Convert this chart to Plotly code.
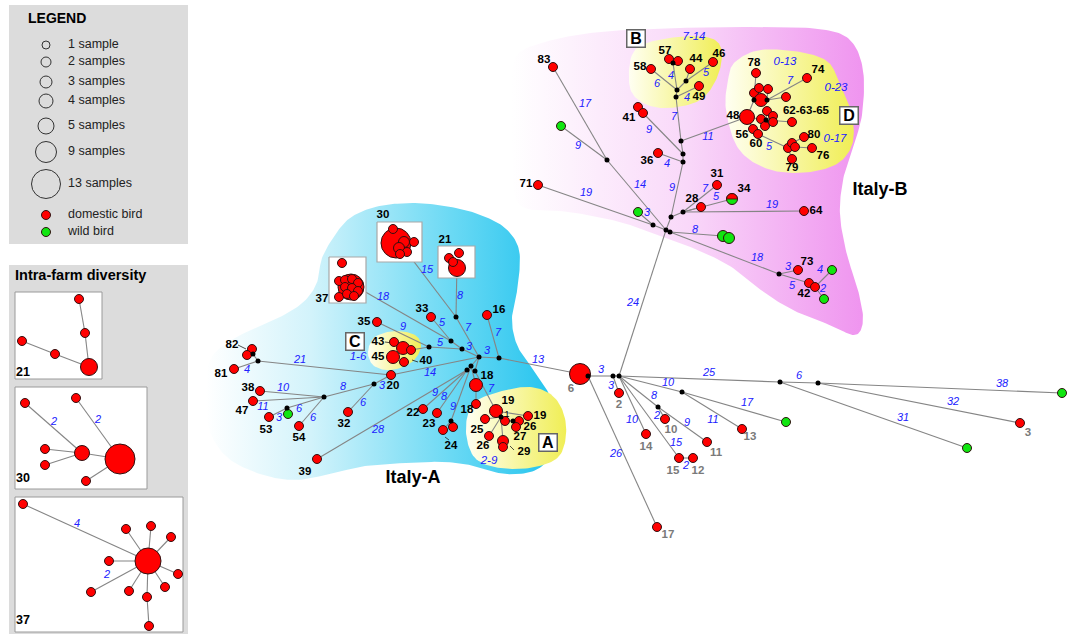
import numpy as np
import plotly.graph_objects as go

FONT = "Arial, 'Liberation Sans', sans-serif"
RED, GREEN = "#ff0000", "#10e610"
OUTLINE = "#301010"
EDGE_GREY = "#858585"
BLUE = "#2020ff"
GREY_TXT = "#7a7a7a"

# isolates per sequence type -> marker diameter in px
SAMPLE_DIAM = {1: 9, 2: 11, 3: 13, 4: 15, 5: 17, 8: 21, 9: 22, 11: 26, 13: 30}

# ---------------- legend ----------------
LEGEND_SAMPLES = [1, 2, 3, 4, 5, 9, 13]
LEGEND_TEXT = ["1 sample", "2 samples", "3 samples", "4 samples", "5 samples", "9 samples", "13 samples"]
LEGEND_HOSTS = ["domestic bird", "wild bird"]

# ---------------- sequence types of the network ----------------
NODE_KEYS = [
    # Italy-A
    "a16", "a33", "a35", "a43", "a40a", "a40b", "a45", "a40c", "a20", "a32", "a38", "a47",
    "a53", "a53w", "a54", "a81", "a82a", "a82b", "a39", "a22", "a23", "a24a", "a24b",
    "a18a", "a18b", "a19a", "a19b", "a25", "a26", "aA1", "aA2", "aA3", "a27", "a29",
    # Italy-B
    "b83", "bw1", "b71", "bw2", "b41a", "b41b", "b36", "b58", "b57a", "b57b", "b44", "b46",
    "b49", "b28", "b31", "b34", "b64", "bw3", "bw4", "b73", "b42a", "b42b", "bw5", "bw6",
    "b48", "b78", "b74", "bD1", "bD2", "bD3", "bD4", "bD5", "bD6", "bD7", "bD8", "bD9",
    "bD10", "bD11", "b56", "b60", "bD12", "bD13", "bD14", "b80", "b76", "b79",
    # outside the two clusters
    "c6", "c2", "c17", "c3", "cw1", "cw2", "cw3", "c13", "c10", "c11", "c15", "c12", "c14",
]
NODE_SAMPLES = [
    1, 1, 1, 1, 3, 1, 3, 1, 1, 1, 1, 1,
    1, 1, 1, 1, 1, 1, 1, 1, 1, 1, 1,
    3, 1, 3, 1, 1, 1, 1, 1, 1, 2, 1,
    1, 1, 1, 1, 1, 1, 1, 1, 1, 1, 1, 1,
    1, 1, 1, 2, 1, 2, 2, 1, 1, 1, 1, 1,
    4, 1, 1, 1, 1, 1, 3, 1, 1, 1, 1, 1,
    1, 1, 1, 1, 1, 1, 1, 1, 1, 1,
    8, 1, 1, 1, 1, 1, 1, 1, 1, 1, 1, 1, 1,
]
# d = domestic bird, w = wild bird, m = both
NODE_HOST = [
    "d", "d", "d", "d", "d", "d", "d", "d", "d", "d", "d", "d",
    "d", "w", "d", "d", "d", "d", "d", "d", "d", "d", "d",
    "d", "d", "d", "d", "d", "d", "d", "d", "d", "d", "d",
    "d", "w", "d", "w", "d", "d", "d", "d", "d", "d", "d", "d",
    "d", "d", "d", "m", "d", "w", "w", "d", "d", "d", "w", "w",
    "d", "d", "d", "d", "d", "d", "d", "d", "d", "d", "d", "d",
    "d", "d", "d", "d", "d", "d", "d", "d", "d", "d",
    "d", "d", "d", "d", "w", "w", "w", "d", "d", "d", "d", "d", "d",
]

# drawing positions (px) of the nodes
NODE_XY = {
    "a16": (487, 315), "a33": (431, 317), "a35": (377, 322), "a43": (394, 342),
    "a40a": (403, 348), "a40b": (411, 350), "a45": (393, 357), "a40c": (404, 362),
    "a20": (391, 375), "a32": (348, 412), "a38": (260, 391), "a47": (253, 401),
    "a53": (269, 417), "a53w": (288, 414), "a54": (299, 426), "a81": (234, 369),
    "a82a": (252, 349), "a82b": (247, 355), "a39": (317, 459), "a22": (423, 409),
    "a23": (437, 413), "a24a": (443, 430), "a24b": (453, 427), "a18a": (476, 385),
    "a18b": (476, 404), "a19a": (496, 411), "a19b": (528, 416), "a25": (485, 419),
    "a26": (489, 436), "aA1": (505, 421), "aA2": (519, 421), "aA3": (516, 427),
    "a27": (503, 441), "a29": (503, 447),
    "b83": (553, 67), "bw1": (561, 126), "b71": (538, 185), "bw2": (638, 212),
    "b41a": (638, 107), "b41b": (643, 113), "b36": (658, 153), "b58": (651, 69),
    "b57a": (669, 59), "b57b": (678, 61), "b44": (690, 69), "b46": (713, 62),
    "b49": (699, 86), "b28": (701, 207), "b31": (717, 185), "b34": (732, 199),
    "b64": (804, 211), "bw3": (723, 236), "bw4": (729, 238), "b73": (798, 270),
    "b42a": (809, 283), "b42b": (815, 287), "bw5": (832, 270), "bw6": (824, 299),
    "b48": (747, 117), "b78": (756, 73), "b74": (807, 78), "bD1": (754, 93),
    "bD2": (759, 88), "bD3": (768, 89), "bD4": (761, 100), "bD5": (786, 97),
    "bD6": (767, 111), "bD7": (761, 119), "bD8": (765, 126), "bD9": (773, 116),
    "bD10": (773, 122), "bD11": (792, 122), "b56": (753, 129), "b60": (758, 134),
    "bD12": (788, 148), "bD13": (792, 143), "bD14": (795, 147), "b80": (804, 137),
    "b76": (812, 148), "b79": (792, 159),
    "c6": (580, 374), "c2": (619, 393), "c17": (657, 527), "c3": (1020, 423),
    "cw1": (1062, 393), "cw2": (967, 448), "cw3": (786, 422), "c13": (742, 429),
    "c10": (665, 419), "c11": (707, 442), "c15": (679, 458), "c12": (693, 458),
    "c14": (646, 434),
}

# median vectors (unsampled intermediate nodes)
JUNCTION_XY = {
    "JA_hub": (479, 357), "JA_16": (499, 358), "JA_3021": (456, 317), "JA_37": (451, 341),
    "JA_C2": (462, 349), "JA_C": (429, 347), "JA_b1": (471, 366), "JA_b2": (467, 370),
    "JA_b3": (475, 371), "JA_24": (451, 421), "JA_19": (501, 417), "JA_26": (513, 421),
    "JA_82a": (253, 354), "JA_82b": (258, 361), "JA_20": (374, 384), "JA_324": (324, 397),
    "JA_53": (287, 408),
    "JB_1": (607, 160), "JB_71": (653, 225), "JB_t": (666, 230), "JB_t2": (670, 232),
    "JB_u": (671, 217), "JB_28": (683, 212), "JB_36": (683, 162), "JB_41": (683, 154),
    "JB_11": (681, 141), "JB_B": (676, 97), "JB_B2": (677, 90), "JB_44": (686, 81),
    "JB_57": (673, 63), "JB_73": (779, 274), "JD_1": (754, 100), "JD_2": (767, 100),
    "JD_3": (766, 120),
    "JC_root": (619, 376), "JC_r2": (613, 376), "JC_6": (588, 376), "JC_25": (780, 382),
    "JC_6b": (818, 383), "JC_10": (682, 392), "JC_8": (658, 407),
}

# farms whose intra-farm network is shown as a thumbnail: anchor of the link
FARM_BOX_XY = {"F30": (399, 242), "F21": (457, 262), "F37": (348, 282)}

# links: from, to, mutational distance ('' = not labelled)
EDGES = [
    ("JA_16", "a16", "7"), ("JA_hub", "JA_16", "3"), ("JA_16", "c6", "13"),
    ("JA_hub", "JA_3021", "7"), ("JA_3021", "F30", "15"), ("JA_3021", "F21", "8"),
    ("JA_hub", "JA_C2", "3"), ("JA_C2", "JA_37", ""), ("JA_37", "F37", "18"),
    ("JA_37", "a33", "5"), ("JA_C2", "JA_C", "5"), ("JA_C", "a35", "9"),
    ("JA_C", "a40b", ""), ("JA_hub", "a20", "14"), ("a20", "JA_82b", "21"),
    ("JA_82b", "a81", "4"), ("JA_82b", "JA_82a", ""), ("JA_82a", "a82a", ""),
    ("JA_82a", "a82b", ""), ("a20", "JA_20", "3"), ("JA_20", "a32", "6"),
    ("JA_20", "JA_324", "8"), ("JA_324", "a38", "10"), ("JA_324", "a47", "11"),
    ("JA_324", "JA_53", "6"), ("JA_324", "a54", "6"), ("JA_53", "a53", "3"),
    ("JA_53", "a53w", ""), ("JA_hub", "JA_b1", ""), ("JA_b1", "JA_b2", ""),
    ("JA_hub", "JA_b3", ""), ("JA_b2", "a39", "28"), ("JA_b2", "a22", "9"),
    ("JA_b2", "a23", "8"), ("JA_b1", "JA_24", "9"), ("JA_24", "a24a", ""),
    ("JA_24", "a24b", ""), ("JA_b1", "a18a", ""), ("a18a", "a18b", ""),
    ("JA_b3", "a19a", "7"), ("a19a", "a19b", ""), ("a19a", "JA_19", ""),
    ("JA_19", "a25", ""), ("JA_19", "a26", ""), ("JA_19", "a27", ""),
    ("JA_19", "aA1", ""), ("aA1", "JA_26", ""), ("JA_26", "aA2", ""),
    ("JA_26", "aA3", ""), ("a27", "a29", ""),
    ("JC_root", "JB_t", "24"), ("JB_1", "b83", "17"), ("JB_1", "bw1", "9"),
    ("JB_1", "JB_t", "14"), ("JB_71", "b71", "19"), ("JB_71", "bw2", "3"),
    ("JB_71", "JB_t", ""), ("JB_t", "JB_t2", ""), ("JB_t", "JB_u", ""),
    ("JB_u", "JB_28", ""), ("JB_28", "b28", ""), ("JB_28", "b31", "7"),
    ("JB_28", "b34", "5"), ("JB_28", "b64", "19"), ("JB_u", "JB_36", "9"),
    ("JB_36", "b36", "4"), ("JB_36", "JB_41", ""), ("JB_41", "b41b", "9"),
    ("JB_41", "JB_11", ""), ("JB_11", "b48", "11"), ("JB_11", "JB_B", "7"),
    ("JB_B", "b49", "4"), ("JB_B", "JB_B2", ""), ("JB_B2", "b58", "6"),
    ("JB_B2", "JB_57", "4"), ("JB_57", "b57a", ""), ("JB_B2", "JB_44", ""),
    ("JB_44", "b44", ""), ("JB_44", "b46", "5"), ("JB_t2", "bw3", "8"),
    ("JB_t2", "JB_73", "18"), ("JB_73", "b73", "3"), ("JB_73", "b42a", "5"),
    ("b42b", "bw5", "4"), ("b42b", "bw6", "2"),
    ("b48", "JD_1", ""), ("JD_1", "b78", ""), ("JD_1", "bD1", ""), ("JD_1", "bD4", ""),
    ("bD4", "JD_2", ""), ("JD_2", "b74", "7"), ("JD_2", "bD5", ""), ("JD_2", "bD3", ""),
    ("JD_1", "bD2", ""), ("b48", "JD_3", ""), ("JD_3", "bD6", ""), ("JD_3", "bD7", ""),
    ("JD_3", "bD8", ""), ("JD_3", "bD9", ""), ("JD_3", "bD10", ""), ("JD_3", "bD11", ""),
    ("b48", "b56", ""), ("b56", "b60", ""), ("b60", "bD12", "5"), ("bD12", "bD13", ""),
    ("bD13", "b80", ""), ("bD12", "bD14", ""), ("bD14", "b76", ""), ("bD12", "b79", ""),
    ("c6", "JC_6", ""), ("JC_6", "JC_r2", "3"), ("JC_r2", "JC_root", ""),
    ("JC_r2", "c2", "3"), ("JC_6", "c17", "26"), ("JC_root", "JC_25", "25"),
    ("JC_25", "JC_6b", "6"), ("JC_6b", "cw1", "38"), ("JC_6b", "c3", "32"),
    ("JC_25", "cw2", "31"), ("JC_root", "JC_10", "10"), ("JC_10", "c13", "11"),
    ("JC_10", "cw3", "17"), ("JC_root", "JC_8", "8"), ("JC_8", "c10", "2"),
    ("JC_8", "c11", "9"), ("JC_root", "c15", "15"), ("c15", "c12", "2"),
    ("JC_root", "c14", "10"),
]
# where each distance label is written (same order as the labelled EDGES)
EDGE_LABEL_XY = [
    (498, 333), (487, 351), (538, 360), (468, 328), (427, 270), (460, 296), (469, 347),
    (383, 297), (442, 323), (440, 343), (403, 327), (430, 373), (300, 360), (247, 370),
    (382, 386), (363, 403), (343, 387), (283, 388), (263, 407), (299, 409), (313, 418),
    (279, 418), (378, 430), (435, 393), (444, 397), (453, 407), (491, 389),
    (633, 303), (585, 104), (578, 146), (640, 185), (586, 193), (647, 213),
    (705, 189), (716, 197), (772, 205), (672, 188), (667, 164), (649, 130), (708, 137),
    (674, 117), (687, 98), (657, 84), (671, 76), (706, 73), (695, 230), (757, 258),
    (788, 267), (792, 286), (820, 270), (823, 289), (790, 81), (769, 147),
    (601, 370), (611, 386), (616, 454), (709, 373), (799, 376), (1002, 384), (953, 402),
    (903, 418), (668, 383), (713, 420), (747, 403), (654, 396), (657, 416), (687, 423),
    (676, 443), (686, 466), (632, 420),
]

# within-cluster distance ranges
RANGE_TEXT = ["7-14", "0-13", "0-23", "0-17", "2-9", "1-6"]
RANGE_XY = [(694, 37), (785, 62), (836, 88), (835, 139), (489, 461), (358, 357)]

# node names (farm / sequence type numbers)
NAME_TEXT = [
    "16", "33", "35", "43", "45", "40", "20", "32", "38", "47", "53", "54", "81", "82", "39",
    "22", "23", "24", "18", "18", "19", "19", "26", "25", "26", "27", "29", "30", "21", "37",
    "83", "71", "41", "36", "58", "57", "44", "46", "49", "28", "31", "34", "64", "73", "42",
    "78", "74", "48", "62-63-65", "56", "60", "80", "76", "79",
]
NAME_XY = [
    (499, 310), (422, 309), (364, 322), (378, 342), (378, 357), (426, 361), (393, 386),
    (344, 424), (248, 388), (242, 411), (266, 430), (299, 438), (221, 374), (232, 345),
    (305, 472), (413, 413), (429, 424), (451, 446), (487, 376), (467, 410), (508, 401),
    (540, 416), (530, 427), (477, 430), (483, 446), (520, 437), (524, 452), (383, 215),
    (445, 240), (322, 299),
    (544, 60), (526, 184), (629, 118), (647, 161), (640, 67), (665, 51), (696, 59),
    (719, 54), (699, 97), (692, 199), (717, 174), (744, 189), (816, 211), (807, 262),
    (804, 294), (754, 63), (818, 70), (733, 116), (806, 111), (742, 135), (756, 144),
    (814, 135), (823, 156), (792, 168),
]
# small in-group distance written beside the 19 node
INNER_TEXT = ["1"]
INNER_XY = [(507, 415)]
# reference strains outside the clusters
REF_TEXT = ["6", "2", "17", "3", "13", "10", "11", "14", "15", "12"]
REF_XY = [(571, 389), (619, 405), (668, 535), (1028, 433), (750, 437), (671, 430),
          (716, 453), (646, 447), (673, 471), (698, 471)]

# thumbnails of the intra-farm networks placed in Italy-A: box, x, y, isolates
THUMB_BOX = {"F30": (377, 222, 422, 262), "F21": (438, 246, 475, 278), "F37": (329, 257, 366, 303)}
THUMB_NODES = [
    ("F30", 396, 243, 13), ("F30", 393, 229, 1), ("F30", 414, 242, 1), ("F30", 404, 242, 2),
    ("F30", 399, 248, 2), ("F30", 407, 252, 1), ("F30", 400, 254, 1),
    ("F21", 457, 268, 5), ("F21", 459, 253, 1), ("F21", 449, 258, 1), ("F21", 453, 262, 1),
    ("F37", 351, 287, 11), ("F37", 342, 263, 1), ("F37", 339, 281, 1), ("F37", 339, 297, 1),
    ("F37", 345, 280, 1), ("F37", 352, 279, 1), ("F37", 358, 283, 1), ("F37", 345, 287, 1),
    ("F37", 352, 288, 1), ("F37", 358, 291, 1), ("F37", 347, 294, 1), ("F37", 354, 296, 1),
]

# intra-farm diversity panels
FARM_PANELS = {"21": (15, 292, 102, 379), "30": (15, 387, 147, 489), "37": (15, 497, 183, 632)}
FARM_NODE_XY = {
    "21a": (79, 299), "21b": (85, 333), "21c": (22, 341), "21d": (55, 354), "21e": (89, 367),
    "30a": (25, 403), "30b": (76, 398), "30c": (45, 449), "30d": (45, 465), "30e": (82, 453),
    "30f": (120, 459), "30g": (86, 481),
    "37a": (23, 504), "37b": (148, 561), "37c": (126, 529), "37d": (151, 526), "37e": (171, 537),
    "37f": (109, 561), "37g": (178, 574), "37h": (165, 587), "37i": (147, 597), "37j": (149, 626),
    "37k": (129, 591), "37l": (91, 592),
}
FARM_SAMPLES = {"21e": 5, "30e": 4, "30f": 13, "37b": 11}
FARM_EDGES = [
    ("21a", "21b", ""), ("21b", "21e", ""), ("21c", "21d", ""), ("21d", "21e", ""),
    ("30a", "30e", "2"), ("30c", "30e", ""), ("30d", "30e", ""), ("30e", "30f", ""),
    ("30b", "30f", "2"), ("30g", "30f", ""),
    ("37a", "37b", "4"), ("37b", "37c", ""), ("37b", "37d", ""), ("37b", "37e", ""),
    ("37b", "37f", ""), ("37b", "37g", ""), ("37b", "37h", ""), ("37b", "37i", ""),
    ("37i", "37j", ""), ("37b", "37k", ""), ("37b", "37l", "2"),
]
FARM_LABEL_XY = [(54, 422), (98, 420), (77, 524), (107, 575)]


def smooth_closed(points, n=14):
    """Closed Catmull-Rom curve through the control points."""
    P = np.asarray(points, float)
    m = len(P)
    out = []
    for i in range(m):
        p0, p1, p2, p3 = P[i - 1], P[i], P[(i + 1) % m], P[(i + 2) % m]
        for t in np.linspace(0, 1, n, endpoint=False):
            out.append(0.5 * (2 * p1 + (-p0 + p2) * t + (2 * p0 - 5 * p1 + 4 * p2 - p3) * t * t
                              + (-p0 + 3 * p1 - 3 * p2 + p3) * t ** 3))
    out.append(out[0])
    return np.array(out)


def region(points, colorscale):
    c = smooth_closed(points)
    return go.Scatter(x=c[:, 0], y=c[:, 1], mode="lines", fill="toself",
                      line=dict(width=0, color="rgba(0,0,0,0)"),
                      fillgradient=dict(type="horizontal", colorscale=colorscale),
                      hoverinfo="skip")


def dots(x, y, size, color, line_color=OUTLINE, line_width=1):
    return go.Scatter(x=x, y=y, mode="markers",
                      marker=dict(size=size, color=color, opacity=1,
                                  line=dict(color=line_color, width=line_width)),
                      hoverinfo="skip")


fig = go.Figure()

# ---- cluster outlines ----
ITALY_B = [(515, 58), (545, 42), (600, 32), (680, 28), (760, 27), (820, 29), (850, 40),
           (863, 70), (862, 115), (852, 150), (843, 180), (840, 215), (847, 255), (858, 290),
           (863, 320), (855, 335), (830, 325), (795, 311), (765, 293), (733, 268), (700, 251),
           (665, 238), (620, 222), (570, 212), (520, 205), (512, 160), (512, 100)]
ITALY_A = [(206, 400), (210, 360), (235, 338), (270, 322), (300, 305), (316, 285), (322, 258),
           (335, 235), (350, 218), (375, 207), (410, 203), (445, 206), (478, 214), (505, 228),
           (519, 250), (518, 285), (512, 318), (517, 345), (532, 368), (548, 392), (557, 420),
           (554, 450), (536, 470), (505, 474), (475, 466), (445, 462), (405, 463), (365, 466),
           (330, 474), (295, 480), (260, 474), (228, 458), (210, 432)]
GROUP_B = [(632, 55), (650, 42), (690, 36), (715, 40), (722, 55), (716, 80), (700, 100),
           (670, 108), (645, 104), (630, 88)]
GROUP_D = [(735, 62), (760, 50), (800, 52), (828, 62), (840, 85), (852, 115), (852, 145),
           (835, 165), (800, 173), (765, 168), (738, 148), (726, 110), (728, 80)]
GROUP_A = [(472, 405), (495, 393), (530, 387), (555, 398), (566, 425), (560, 455), (535, 467),
           (500, 468), (475, 458), (466, 432)]
GROUP_C = [(368, 352), (375, 337), (395, 331), (415, 335), (421, 347), (412, 362), (392, 370),
           (374, 366)]

fig.add_trace(region(ITALY_B, [[0, "#ffffff"], [0.5, "#f9d8f9"], [1, "#ef94ef"]]))
fig.add_trace(region(ITALY_A, [[0, "#ffffff"], [0.3, "#d2f3fb"], [0.7, "#6ad9f4"], [1, "#22c3ee"]]))
YELLOW = [[0, "#fffff2"], [1, "#f0ee55"]]
for g in (GROUP_B, GROUP_D, GROUP_A, GROUP_C):
    fig.add_trace(region(g, YELLOW))

# ---- links ----
POS = {**NODE_XY, **JUNCTION_XY, **FARM_BOX_XY}
ex, ey, lx, ly, lt = [], [], [], [], []
label_iter = iter(EDGE_LABEL_XY)
for a, b, d in EDGES:
    (x0, y0), (x1, y1) = POS[a], POS[b]
    ex += [x0, x1, None]
    ey += [y0, y1, None]
    if d:
        px, py = next(label_iter)
        lx.append(px); ly.append(py); lt.append(d)
fig.add_trace(go.Scatter(x=ex, y=ey, mode="lines", line=dict(color=EDGE_GREY, width=1.1),
                         hoverinfo="skip"))

# ---- thumbnail boxes (drawn over the links that enter them) ----
for key, (x0, y0, x1, y1) in THUMB_BOX.items():
    fig.add_trace(go.Scatter(x=[x0, x1, x1, x0, x0], y=[y0, y0, y1, y1, y0], mode="lines",
                             fill="toself", fillcolor="white",
                             line=dict(color="#a8a8a8", width=1.2), hoverinfo="skip"))
fig.add_trace(dots([n[1] for n in THUMB_NODES], [n[2] for n in THUMB_NODES],
                   [SAMPLE_DIAM[n[3]] for n in THUMB_NODES], RED))

# ---- small pointer ticks next to some names ----
TICKS = [((238, 345), (246, 349)), ((385, 342), (392, 343)), ((412, 360), (418, 362)),
         ((445, 437), (449, 440)), ((510, 446), (514, 450))]
tx, ty = [], []
for (x0, y0), (x1, y1) in TICKS:
    tx += [x0, x1, None]; ty += [y0, y1, None]
fig.add_trace(go.Scatter(x=tx, y=ty, mode="lines", line=dict(color="#202020", width=0.8),
                         hoverinfo="skip"))

# ---- sequence types ----
colors = [GREEN if h in ("w", "m") else RED for h in NODE_HOST]
fig.add_trace(dots([NODE_XY[k][0] for k in NODE_KEYS], [NODE_XY[k][1] for k in NODE_KEYS],
                   [SAMPLE_DIAM[s] for s in NODE_SAMPLES], colors))
# mixed host node: upper half domestic
for k, h, s in zip(NODE_KEYS, NODE_HOST, NODE_SAMPLES):
    if h == "m":
        cx, cy = NODE_XY[k]
        r = SAMPLE_DIAM[s] / 2
        t = np.linspace(0, np.pi, 30)
        fig.add_trace(go.Scatter(x=np.r_[cx + r * np.cos(t), cx + r], y=np.r_[cy - r * np.sin(t), cy],
                                 mode="lines", fill="toself", fillcolor=RED,
                                 line=dict(color=OUTLINE, width=0.8), hoverinfo="skip"))

fig.add_trace(dots([p[0] for p in JUNCTION_XY.values()], [p[1] for p in JUNCTION_XY.values()],
                   5, "black", line_width=0))


# ---- texts of the network ----
def text_trace(xy, text, size, color, weight="normal", style="normal"):
    return go.Scatter(x=[p[0] for p in xy], y=[p[1] for p in xy], text=text, mode="text",
                      textposition="middle center", cliponaxis=False,
                      textfont=dict(family=FONT, size=size, color=color, weight=weight, style=style),
                      hoverinfo="skip")


fig.add_trace(text_trace(list(zip(lx, ly)), lt, 11, BLUE, style="italic"))
fig.add_trace(text_trace(RANGE_XY, RANGE_TEXT, 11.5, BLUE, style="italic"))
fig.add_trace(text_trace(NAME_XY, NAME_TEXT, 11.5, "black", weight="bold"))
fig.add_trace(text_trace(INNER_XY, INNER_TEXT, 9, "black"))
fig.add_trace(text_trace(REF_XY, REF_TEXT, 11.5, GREY_TXT, weight="bold"))
fig.add_trace(text_trace([(413, 478), (880, 190)], ["Italy-A", "Italy-B"], 18, "black", weight="bold"))

# ---- legend panel ----
shapes = [dict(type="rect", x0=9, y0=5, x1=188, y1=244, fillcolor="#dcdcdc", line=dict(width=0),
               layer="below"),
          dict(type="rect", x0=9, y0=265, x1=188, y1=640, fillcolor="#dcdcdc", line=dict(width=0),
               layer="below")]
for key, (x0, y0, x1, y1) in FARM_PANELS.items():
    shapes.append(dict(type="rect", x0=x0, y0=y0, x1=x1, y1=y1, fillcolor="white",
                       line=dict(color="#9a9a9a", width=1), layer="below"))

LEG_Y = [45, 62, 82, 101, 126, 152, 184]
fig.add_trace(dots([46] * len(LEGEND_SAMPLES), LEG_Y,
                   [SAMPLE_DIAM[s] - 1 for s in LEGEND_SAMPLES], "rgba(0,0,0,0)",
                   line_color="#333"))
HOST_Y = [215, 232]
fig.add_trace(dots([46, 46], HOST_Y, 9, [RED, GREEN]))
fig.add_trace(go.Scatter(x=[68] * 9, y=LEG_Y + HOST_Y, text=LEGEND_TEXT + LEGEND_HOSTS,
                         mode="text", textposition="middle right", cliponaxis=False,
                         textfont=dict(family=FONT, size=12.5, color="#222"), hoverinfo="skip"))
fig.add_trace(go.Scatter(x=[28, 15], y=[19, 276], text=["LEGEND", "Intra-farm diversity"],
                         mode="text", textposition="middle right", cliponaxis=False,
                         textfont=dict(family=FONT, size=[14, 14.5], color="black", weight="bold"),
                         hoverinfo="skip"))

# ---- intra-farm networks ----
fx, fy, flx, fly, flt = [], [], [], [], []
f_lab = iter(FARM_LABEL_XY)
for a, b, d in FARM_EDGES:
    (x0, y0), (x1, y1) = FARM_NODE_XY[a], FARM_NODE_XY[b]
    fx += [x0, x1, None]; fy += [y0, y1, None]
    if d:
        px, py = next(f_lab)
        flx.append(px); fly.append(py); flt.append(d)
fig.add_trace(go.Scatter(x=fx, y=fy, mode="lines", line=dict(color=EDGE_GREY, width=1.1),
                         hoverinfo="skip"))
fig.add_trace(dots([p[0] for p in FARM_NODE_XY.values()], [p[1] for p in FARM_NODE_XY.values()],
                   [SAMPLE_DIAM[FARM_SAMPLES.get(k, 1)] for k in FARM_NODE_XY], RED))
fig.add_trace(text_trace(list(zip(flx, fly)), flt, 11, BLUE, style="italic"))
fig.add_trace(go.Scatter(x=[16] * 3, y=[373, 479, 621], text=list(FARM_PANELS.keys()),
                         mode="text", textposition="middle right", cliponaxis=False,
                         textfont=dict(family=FONT, size=12.5, color="black", weight="bold"),
                         hoverinfo="skip"))

# ---- group tags ----
annotations = []
for lab, (x, y) in zip(["A", "B", "C", "D"], [(548, 442), (636, 38), (355, 341), (849, 115)]):
    annotations.append(dict(x=x, y=y, xref="x", yref="y", text=lab, showarrow=False,
                            font=dict(family=FONT, size=16, color="black", weight="bold"),
                            bgcolor="white", bordercolor="#666666", borderwidth=1.5,
                            borderpad=0, width=17, height=16))

fig.update_layout(
    width=1075, height=634, margin=dict(l=0, r=0, t=0, b=0),
    paper_bgcolor="white", plot_bgcolor="white", showlegend=False,
    xaxis=dict(range=[0, 1075], visible=False, fixedrange=True),
    yaxis=dict(range=[634, 0], visible=False, fixedrange=True),
    shapes=shapes, annotations=annotations,
)
fig.write_html("out.html")
